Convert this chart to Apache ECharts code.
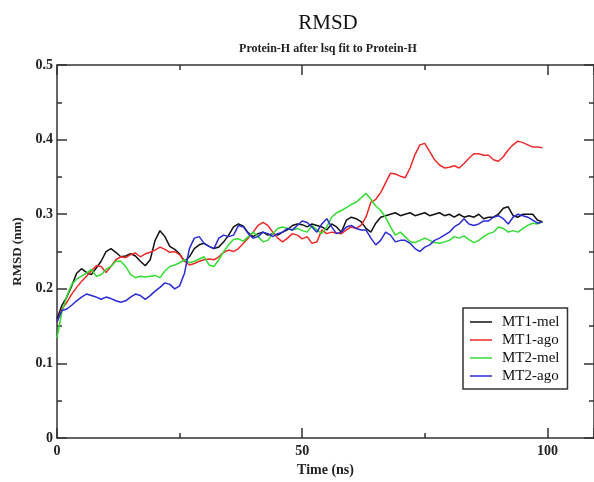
<!DOCTYPE html>
<html>
<head>
<meta charset="utf-8">
<script src="https://cdn.jsdelivr.net/npm/echarts@6/dist/echarts.min.js"></script>
<style>html,body{margin:0;padding:0;background:#fff}#c{width:594px;height:482px}</style>
</head>
<body>
<div id="c"></div>
<script>
const timeNs = [0,1,2,3,4,5,6,7,8,9,10,11,12,13,14,15,16,17,18,19,20,21,22,23,24,25,26,27,28,29,30,31,32,33,34,35,36,37,38,39,40,41,42,43,44,45,46,47,48,49,50,51,52,53,54,55,56,57,58,59,60,61,62,63,64,65,66,67,68,69,70,71,72,73,74,75,76,77,78,79,80,81,82,83,84,85,86,87,88,89,90,91,92,93,94,95,96,97,98,99];
const mt1Mel = [0.160,0.178,0.189,0.204,0.221,0.227,0.222,0.219,0.228,0.237,0.250,0.254,0.249,0.243,0.244,0.247,0.244,0.237,0.231,0.239,0.265,0.278,0.270,0.257,0.253,0.247,0.237,0.243,0.254,0.259,0.261,0.257,0.254,0.256,0.263,0.272,0.283,0.287,0.284,0.275,0.270,0.274,0.276,0.272,0.274,0.272,0.276,0.279,0.285,0.287,0.286,0.283,0.287,0.285,0.283,0.279,0.287,0.283,0.276,0.292,0.296,0.294,0.290,0.281,0.276,0.288,0.296,0.298,0.300,0.302,0.298,0.300,0.302,0.298,0.300,0.302,0.298,0.300,0.302,0.298,0.300,0.296,0.300,0.296,0.298,0.296,0.300,0.294,0.296,0.296,0.300,0.308,0.310,0.298,0.296,0.300,0.300,0.300,0.292,0.290];
const mt1Ago = [0.155,0.173,0.182,0.193,0.202,0.210,0.217,0.224,0.231,0.230,0.222,0.230,0.239,0.243,0.242,0.246,0.248,0.243,0.247,0.249,0.252,0.256,0.253,0.249,0.250,0.246,0.237,0.232,0.234,0.237,0.239,0.240,0.239,0.243,0.249,0.252,0.250,0.254,0.261,0.268,0.276,0.285,0.289,0.285,0.276,0.268,0.263,0.268,0.274,0.272,0.267,0.270,0.261,0.263,0.279,0.274,0.276,0.275,0.274,0.279,0.283,0.281,0.285,0.296,0.316,0.320,0.329,0.342,0.355,0.354,0.351,0.349,0.362,0.380,0.393,0.395,0.384,0.373,0.366,0.362,0.363,0.365,0.362,0.368,0.375,0.381,0.381,0.379,0.379,0.373,0.371,0.377,0.386,0.393,0.398,0.396,0.393,0.390,0.390,0.389];
const mt2Mel = [0.134,0.169,0.190,0.206,0.213,0.217,0.221,0.226,0.217,0.219,0.226,0.230,0.237,0.237,0.230,0.219,0.215,0.217,0.216,0.217,0.218,0.215,0.224,0.230,0.232,0.235,0.239,0.235,0.237,0.240,0.243,0.232,0.230,0.239,0.250,0.259,0.266,0.267,0.264,0.270,0.276,0.270,0.263,0.265,0.274,0.281,0.283,0.281,0.279,0.281,0.278,0.276,0.285,0.279,0.274,0.283,0.296,0.302,0.305,0.309,0.313,0.316,0.322,0.328,0.320,0.311,0.305,0.296,0.283,0.272,0.276,0.270,0.263,0.262,0.265,0.268,0.265,0.262,0.261,0.263,0.265,0.270,0.268,0.271,0.266,0.262,0.265,0.270,0.274,0.276,0.283,0.281,0.276,0.278,0.276,0.281,0.285,0.288,0.287,0.290];
const mt2Ago = [0.156,0.171,0.173,0.178,0.184,0.189,0.193,0.191,0.189,0.186,0.189,0.187,0.184,0.182,0.184,0.189,0.193,0.191,0.186,0.191,0.197,0.202,0.208,0.206,0.200,0.204,0.221,0.254,0.268,0.270,0.261,0.257,0.254,0.268,0.272,0.270,0.272,0.285,0.283,0.274,0.268,0.270,0.276,0.274,0.270,0.274,0.276,0.281,0.279,0.285,0.291,0.289,0.283,0.276,0.287,0.294,0.283,0.274,0.276,0.283,0.285,0.281,0.279,0.279,0.268,0.259,0.265,0.276,0.272,0.263,0.265,0.265,0.261,0.254,0.250,0.256,0.259,0.265,0.268,0.272,0.276,0.283,0.287,0.294,0.287,0.285,0.287,0.291,0.291,0.296,0.298,0.294,0.287,0.296,0.300,0.298,0.296,0.292,0.288,0.290];
const seriesNames = ['MT1-mel','MT1-ago','MT2-mel','MT2-ago'];
const seriesValues = [mt1Mel, mt1Ago, mt2Mel, mt2Ago];
const seriesColors = ['#111111','#ee2a2a','#33dd33','#2a2ad6'];

const FONT = '"Liberation Serif", "DejaVu Serif", serif';
const axisLineStyle = {color:'#333', width:1.5};
const chart = echarts.init(document.getElementById('c'), null, {renderer:'canvas'});

function xAx(pos, show) {
  return {
    type:'value', position:pos, min:0, max:109.5, interval:50,
    axisLine:{show:true, onZero:false, lineStyle:axisLineStyle},
    axisTick:{show:true, inside:true, length:10, lineStyle:axisLineStyle},
    minorTick:{show:true, splitNumber:2, length:5, lineStyle:axisLineStyle},
    splitLine:{show:false},
    axisLabel:{show:show, showMaxLabel:false, fontFamily:FONT, fontSize:14, fontWeight:'bold', color:'#222', margin:6},
    name: show ? 'Time (ns)' : '', nameLocation:'middle', nameGap:21,
    nameTextStyle:{fontFamily:FONT, fontSize:14, fontWeight:'bold', color:'#222'}
  };
}
function yAx(pos, show) {
  return {
    type:'value', position:pos, min:0, max:0.5, interval:0.1,
    axisLine:{show:true, onZero:false, lineStyle:axisLineStyle},
    axisTick:{show:true, inside:true, length:10, lineStyle:axisLineStyle},
    minorTick:{show:true, splitNumber:2, length:5, lineStyle:axisLineStyle},
    splitLine:{show:false},
    axisLabel:{show:show, fontFamily:FONT, fontSize:14, fontWeight:'bold', color:'#222', margin:4},
    name: show ? 'RMSD (nm)' : '', nameLocation:'middle', nameGap:26, nameRotate:90,
    nameTextStyle:{fontFamily:FONT, fontSize:13, fontWeight:'bold', color:'#222'}
  };
}

chart.setOption({
  backgroundColor:'#fff',
  animation:false,
  title:{
    text:'RMSD', subtext:'Protein-H after lsq fit to Protein-H',
    left:328, top:13, textAlign:'center', itemGap:9, padding:0,
    textStyle:{fontFamily:FONT, fontSize:21, fontWeight:'normal', color:'#111'},
    subtextStyle:{fontFamily:FONT, fontSize:12, fontWeight:'bold', color:'#222'}
  },
  grid:{left:57, top:65, right:-2, height:380, containLabel:false},
  xAxis:[xAx('bottom', true), xAx('top', false)],
  yAxis:[yAx('left', true), yAx('right', false)],
  legend:{
    orient:'vertical', left:463, top:308,
    data:seriesNames,
    icon:'rect', itemWidth:22, itemHeight:1.5, itemGap:2,
    padding:[6,8,5,7],
    borderColor:'#333', borderWidth:1.5, backgroundColor:'#fff',
    textStyle:{fontFamily:FONT, fontSize:15, color:'#111', padding:[0,0,0,5], lineHeight:16}
  },
  series: seriesNames.map((n,i)=>({
    name:n, type:'line', xAxisIndex:0, yAxisIndex:0,
    data: timeNs.map((t,k)=>[t, seriesValues[i][k]]),
    showSymbol:false, symbol:'none',
    lineStyle:{color:seriesColors[i], width:1.5},
    itemStyle:{color:seriesColors[i]}
  }))
});
</script>
</body>
</html>
